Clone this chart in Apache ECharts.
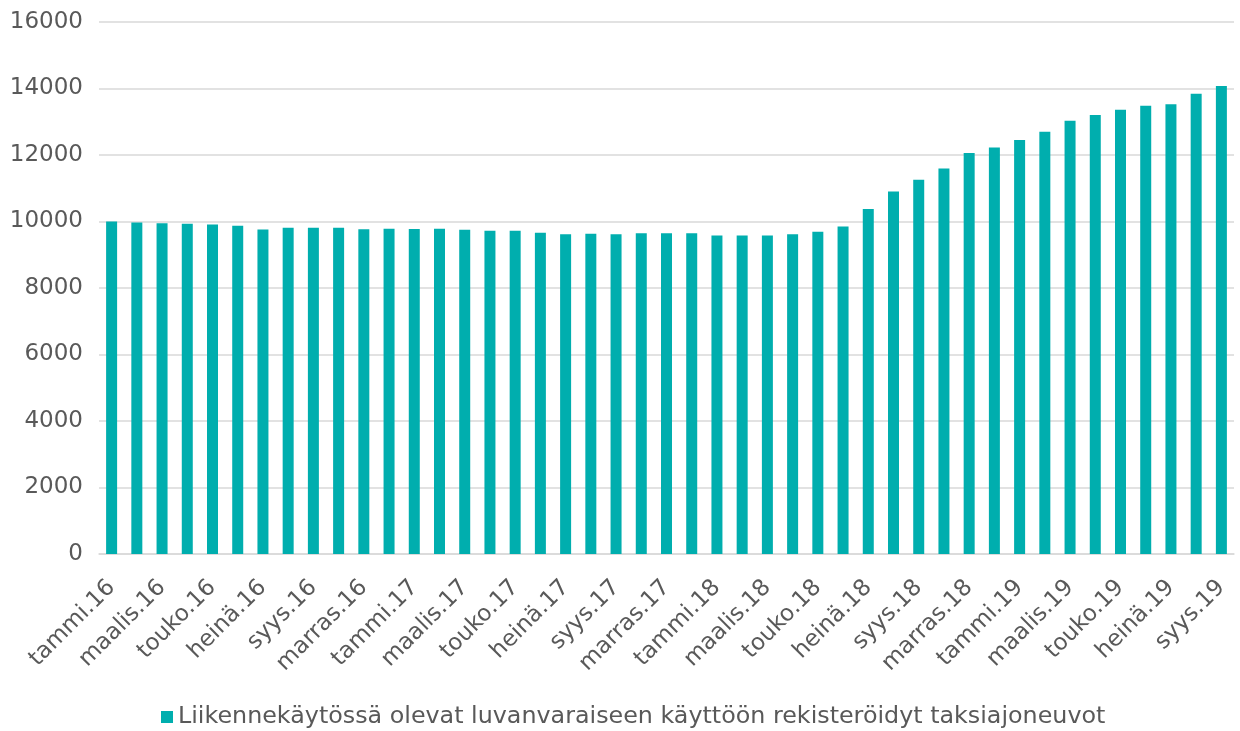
<!DOCTYPE html>
<html>
<head>
<meta charset="utf-8">
<script src="https://cdn.jsdelivr.net/npm/echarts@6/dist/echarts.min.js"></script>
<style>html,body{margin:0;padding:0;background:#fff;}#c{width:1240px;height:731px;}</style>
</head>
<body>
<div id="c"></div>
<script>
const monthNames = ['tammi','helmi','maalis','huhti','touko','kesä','heinä','elo','syys','loka','marras','joulu'];
const years = ['16','17','18','19'];
const categories = [];
for (const y of years) for (const m of monthNames) categories.push(m + '.' + y);
categories.length = 45;
const seriesName = 'Liikennekäytössä olevat luvanvaraiseen käyttöön rekisteröidyt taksiajoneuvot';
const values = [
  10000, 9970, 9950, 9935, 9910, 9870, 9760, 9810, 9810, 9810, 9770, 9780,
  9775, 9780, 9750, 9720, 9720, 9660, 9620, 9630, 9620, 9650, 9650, 9650,
  9580, 9580, 9580, 9620, 9690, 9850, 10373, 10902, 11254, 11594, 12057, 12226,
  12448, 12698, 13030, 13200, 13360, 13480, 13530, 13840, 14073
];
const yTicks = { min: 0, max: 16000, interval: 2000 };

const chart = echarts.init(document.getElementById('c'), null, {renderer: 'canvas'});
const textColor = '#595959';
const font = '"DejaVu Sans", sans-serif';
chart.setOption({
  animation: false,
  grid: { left: 99, right: 6, top: 22, bottom: 177 },
  legend: {
    top: 705, left: 161, padding: 0,
    icon: 'rect', itemWidth: 12, itemHeight: 12, itemGap: 5,
    textStyle: { color: textColor, fontSize: 23.8, fontFamily: font },
    data: [seriesName]
  },
  xAxis: {
    type: 'category', data: categories,
    axisLine: { lineStyle: { color: '#D9D9D9', width: 1.5 } },
    axisTick: { show: false },
    axisLabel: { interval: 1, rotate: 45, color: textColor, fontSize: 23, fontFamily: font, margin: 30 }
  },
  yAxis: {
    type: 'value', min: yTicks.min, max: yTicks.max, interval: yTicks.interval,
    axisLine: { show: false }, axisTick: { show: false },
    splitLine: { lineStyle: { color: '#D9D9D9', width: 1.5 } },
    axisLabel: { color: textColor, fontSize: 23, fontFamily: font, margin: 16, formatter: v => String(v) }
  },
  series: [{
    name: seriesName, type: 'bar', data: values, barWidth: 11,
    itemStyle: { color: '#00AEAE' }
  }]
});
</script>
</body>
</html>
